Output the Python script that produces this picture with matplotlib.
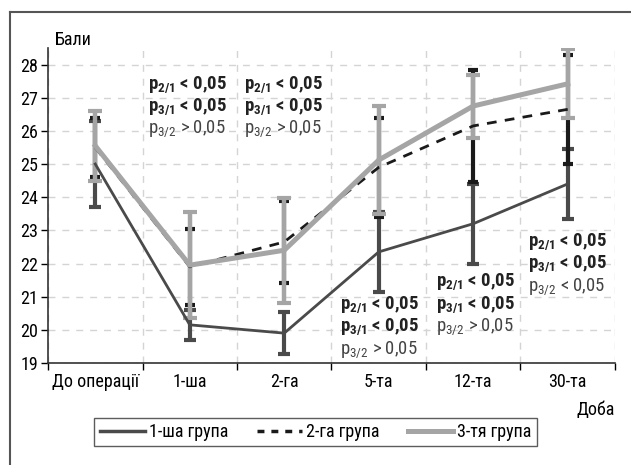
import numpy as np
import matplotlib
matplotlib.use("Agg")
import matplotlib.pyplot as plt
from matplotlib.lines import Line2D
from matplotlib import font_manager as fm

# narrow font if one is there, otherwise plain Liberation Sans
have = set(f.name for f in fm.fontManager.ttflist)
font = 'Liberation Sans'
for cand in ['Roboto Condensed', 'PT Sans Narrow', 'Fira Sans Condensed',
             'IBM Plex Sans Condensed', 'Open Sans Condensed', 'Archivo Narrow']:
    if cand in have:
        font = cand
        break

plt.rcParams['font.family'] = [font, 'Liberation Sans', 'DejaVu Sans']
plt.rcParams['mathtext.fontset'] = 'custom'
plt.rcParams['mathtext.rm'] = font
plt.rcParams['mathtext.it'] = font
plt.rcParams['mathtext.bf'] = font + ':bold'

# data
cats = ['До операції', '1-ша', '2-га', '5-та', '12-та', '30-та']
g1_mean = [25.0, 20.15, 19.9, 22.35, 23.2, 24.4]
g1_err = [1.3, 0.45, 0.63, 1.2, 1.2, 1.05]
g2_mean = [25.5, 21.9, 22.65, 24.9, 26.15, 26.65]
g2_err = [0.88, 1.15, 1.25, 1.5, 1.7, 1.65]
g3_mean = [25.55, 21.95, 22.4, 25.12, 26.75, 27.42]
g3_err = [1.05, 1.6, 1.58, 1.63, 0.95, 1.04]
labels = ['1-ша група', '2-га група', '3-тя група']

# p-value notes: x, y of first line, sign in third line
notes_x = [0.56, 1.57, 2.59, 3.61, 4.58]
notes_y = [27.4, 27.4, 20.75, 21.44, 22.65]
notes_sign = ['>', '>', '>', '>', '<']

c1, c2, c3 = '#4a4a4a', '#1a1a1a', '#a5a5a5'

fig = plt.figure(figsize=(6.31, 4.65), dpi=100)
ax = fig.add_axes([0.0761, 0.2194, 0.8985, 0.6774])
x = np.arange(len(cats))

ax.errorbar(x, g1_mean, yerr=g1_err, fmt='none', ecolor=c1, elinewidth=3,
            capsize=4, capthick=3, zorder=3)
ax.errorbar(x, g2_mean, yerr=g2_err, fmt='none', ecolor=c2, elinewidth=3,
            capsize=3.5, capthick=3, zorder=4)
ax.errorbar(x, g3_mean, yerr=g3_err, fmt='none', ecolor=c3, elinewidth=3.2,
            capsize=4.7, capthick=3, zorder=5)
ax.plot(x, g1_mean, color=c1, lw=2, zorder=6)
ax.plot(x, g2_mean, color=c2, lw=2, dashes=(3.5, 3), zorder=6)
ax.plot(x, g3_mean, color=c3, lw=3.6, zorder=7)

ax.set_xlim(-0.5, 5.5)
ax.set_ylim(19, 28.5)
ax.set_yticks(range(19, 29))
ax.set_xticks(x)
ax.set_xticklabels(cats)
ax.set_xticks(np.arange(-0.5, 6, 1), minor=True)
ax.tick_params(axis='x', which='major', length=0, pad=7, labelsize=13)
ax.tick_params(axis='x', which='minor', length=5, width=1, direction='out')
ax.tick_params(axis='y', length=5, width=1, direction='out', labelsize=13, pad=2)
ax.grid(axis='y', color='#d4d4d4', lw=1, dashes=(5, 5))
ax.grid(axis='x', which='minor', color='#d4d4d4', lw=1, dashes=(5, 5))
for s in ['top', 'right']:
    ax.spines[s].set_visible(False)
for s in ['left', 'bottom']:
    ax.spines[s].set_color('#333333')
    ax.spines[s].set_linewidth(1.2)
ax.set_axisbelow(True)

for nx, ny, sg in zip(notes_x, notes_y, notes_sign):
    ax.text(nx, ny, r'p$_{\mathbf{2/1}}$ < 0,05', fontsize=13.5, fontweight='bold',
            va='center', color='#222222', zorder=8)
    ax.text(nx, ny - 0.67, r'p$_{\mathbf{3/1}}$ < 0,05', fontsize=13.5, fontweight='bold',
            va='center', color='#222222', zorder=8)
    ax.text(nx, ny - 1.34, 'p$_{3/2}$ ' + sg + ' 0,05', fontsize=13.5,
            va='center', color='#444444', zorder=8)

fig.text(0.087, 0.914, 'Бали', fontsize=13, va='center', ha='left')
fig.text(0.975, 0.118, 'Доба', fontsize=13, va='center', ha='right')

handles = [Line2D([], [], color=c1, lw=2.5),
           Line2D([], [], color=c2, lw=2.5, dashes=(2, 2)),
           Line2D([], [], color=c3, lw=3.6)]
leg = fig.legend(handles, labels, ncol=3, loc='center', bbox_to_anchor=(0.5, 0.071),
                 frameon=True, fancybox=False, edgecolor='#333333', fontsize=13,
                 handlelength=2.5, handletextpad=0.2, columnspacing=1.6,
                 borderpad=0.3)
leg.get_frame().set_linewidth(1)

# outer frame, only top and left edges show
fig.add_artist(Line2D([10 / 631, 1], [1 - 12 / 465, 1 - 12 / 465], color='#555555', lw=1.5))
fig.add_artist(Line2D([10 / 631, 10 / 631], [0, 1 - 12 / 465], color='#555555', lw=1.5))

fig.savefig('out.png', dpi=100)
